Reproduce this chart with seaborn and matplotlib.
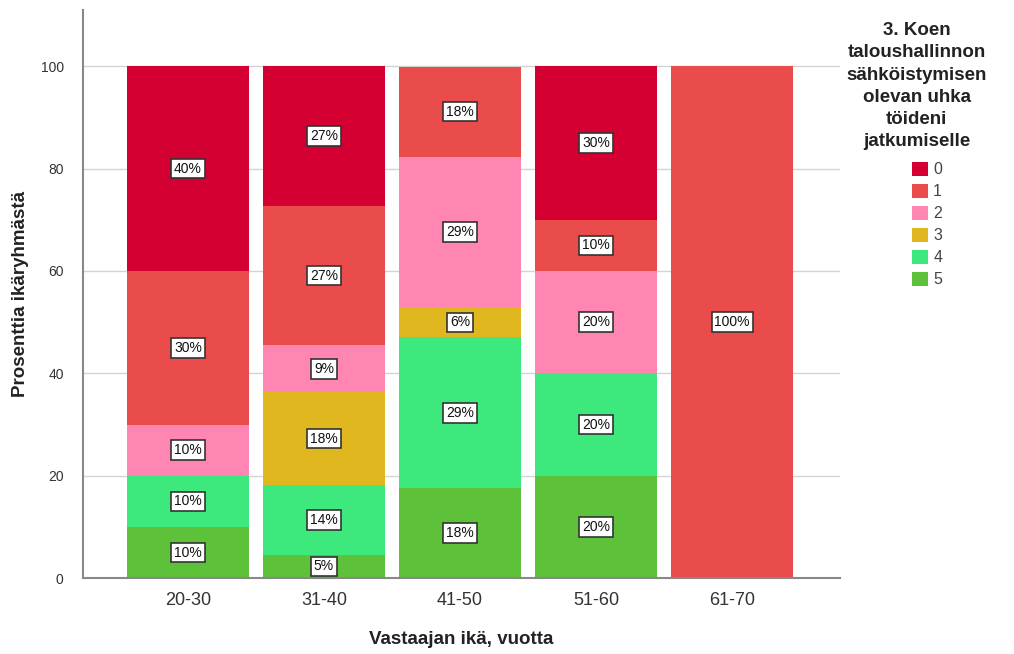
import numpy as np
import pandas as pd
import seaborn as sns
import matplotlib.pyplot as plt
from matplotlib.patches import Patch

# Data (percent within age group)
ages = ["20-30", "31-40", "41-50", "51-60", "61-70"]
answers = ["0", "1", "2", "3", "4", "5"]
pct_5 = [10, 4.55, 17.6, 20, 0]
pct_4 = [10, 13.6, 29.4, 20, 0]
pct_3 = [0, 18.2, 5.9, 0, 0]
pct_2 = [10, 9.1, 29.4, 20, 0]
pct_1 = [30, 27.3, 17.6, 10, 100]
pct_0 = [40, 27.3, 0, 30, 0]
colors = {"0": "#D50032", "1": "#EA4B4B", "2": "#FF85B3",
          "3": "#E0B71F", "4": "#3DE87D", "5": "#5DC23A"}

series = {"5": pct_5, "4": pct_4, "3": pct_3, "2": pct_2, "1": pct_1, "0": pct_0}

sns.set_style("white")
plt.rcParams['font.family'] = ['Liberation Sans', 'DejaVu Sans']

fig = plt.figure(figsize=(10.14, 6.54), dpi=100)
ax = fig.add_axes([0.082, 0.116, 0.746, 0.869])

ax.set_axisbelow(True)
ax.yaxis.grid(True, color="#d4d4d4", lw=1)

bottom = np.zeros(len(ages))
for key in ["5", "4", "3", "2", "1", "0"]:
    vals = np.array(series[key], dtype=float)
    df = pd.DataFrame({"age": ages, "pct": vals})
    sns.barplot(data=df, x="age", y="pct", order=ages, bottom=bottom,
                color=colors[key], saturation=1, width=0.9, ax=ax,
                edgecolor="none", linewidth=0)
    for i, v in enumerate(vals):
        if v > 0:
            ax.text(i, bottom[i] + v / 2, f"{v:.0f}%", ha="center", va="center",
                    fontsize=10, color="#111",
                    bbox=dict(boxstyle="square,pad=0.2", fc="white",
                              ec="#333", lw=1.2))
    bottom += vals

ax.set_xlim(-0.77, 4.79)
ax.set_ylim(0, 111)
ax.set_yticks([0, 20, 40, 60, 80, 100])
ax.tick_params(axis="y", labelsize=10, colors="#333", length=0, pad=14)
ax.tick_params(axis="x", labelsize=13, colors="#333", length=0, pad=10)
for s in ["top", "right"]:
    ax.spines[s].set_visible(False)
for s in ["left", "bottom"]:
    ax.spines[s].set_color("#888")
    ax.spines[s].set_linewidth(1.5)

ax.set_xlabel("Vastaajan ikä, vuotta", fontsize=13.5, fontweight="bold",
              color="#222", labelpad=16)
ax.set_ylabel("Prosenttia ikäryhmästä", fontsize=13.5, fontweight="bold",
              color="#222", labelpad=8)

fig.text(0.904, 0.966, "3. Koen\ntaloushallinnon\nsähköistymisen\nolevan uhka\ntöideni\njatkumiselle",
         ha="center", va="top", fontsize=13.5, fontweight="bold",
         color="#222", linespacing=1.4)

handles = [Patch(facecolor=colors[a], edgecolor="none") for a in answers]
fig.legend(handles, answers, loc="upper left", bbox_to_anchor=(0.892, 0.765),
           frameon=False, fontsize=11.5, handlelength=1.0, handleheight=1.0,
           handletextpad=0.3, labelspacing=0.4, borderpad=0, labelcolor="#444")

fig.savefig("out.png", dpi=100)
